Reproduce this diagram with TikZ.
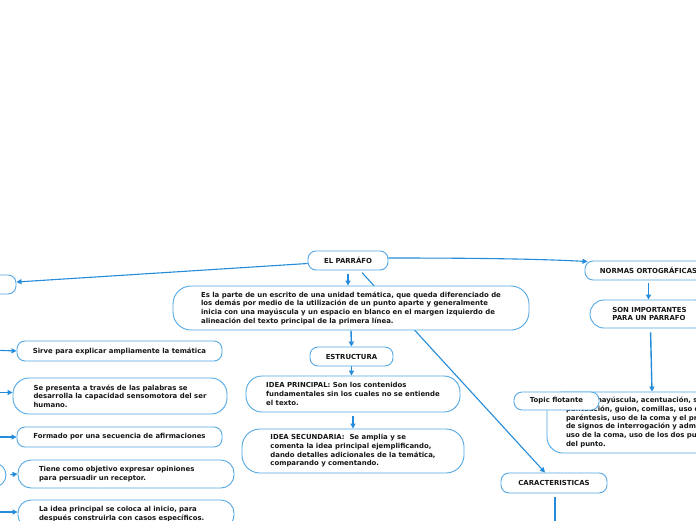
\documentclass[tikz,border=0pt]{standalone}
\usepackage{fontspec}
\setmainfont{DejaVu Sans}
\usetikzlibrary{arrows.meta}
\pgfdeclarelayer{bg}
\pgfsetlayers{bg,main}
\definecolor{boxblue}{RGB}{84,168,228}
\definecolor{lineblue}{RGB}{36,140,218}
\definecolor{txt}{RGB}{22,22,22}
\tikzset{
  box/.style={draw=boxblue, line width=0.9pt, fill=white, rounded corners=#1,
    font=\fontsize{6.92}{8.7}\selectfont\bfseries, text=txt, align=left,
    inner ysep=0pt, inner xsep=0pt},
  box/.default=8pt,
  conn/.style={draw=lineblue, line width=1.1pt, -{Triangle[length=5pt,width=5pt]}},
  plain/.style={draw=lineblue, line width=1.1pt}
}
\begin{document}
\begin{tikzpicture}[x=1pt,y=-1pt]
\useasboundingbox (0,0) rectangle (696,520);
\clip (0,0) rectangle (696,520);
% central column
\node[box, minimum width=80pt, minimum height=19pt, align=center] (par) at (348,260.5) {EL PARRÁFO};
\node[box=18pt, minimum width=356pt, minimum height=44pt] (def) at (351,308)
  {Es la parte de un escrito de una unidad temática, que queda diferenciado de\\
   los demás por medio de la utilización de un punto aparte y generalmente\\
   inicia con una mayúscula y un espacio en blanco en el margen izquierdo de\\
   alineación del texto principal de la primera línea.};
\node[box, minimum width=83pt, minimum height=19pt, align=center] (est) at (351.5,356.5) {ESTRUCTURA};
\node[box=16pt, minimum width=214pt, minimum height=36pt] (ip) at (353,394)
  {IDEA PRINCIPAL: Son los contenidos\\
   fundamentales sin los cuales no se entiende\\
   el texto.};
\node[box=18pt, minimum width=222pt, minimum height=44pt] (is) at (353,451)
  {IDEA SECUNDARIA:\ \ Se amplia y se\\
   comenta la idea principal ejemplificando,\\
   dando detalles adicionales de la temática,\\
   comparando y comentando.};
% right column
\node[box, minimum width=127pt, minimum height=19pt, align=center] (nor) at (648.5,270.5) {NORMAS ORTOGRÁFICAS};
\node[box=14pt, minimum width=119pt, minimum height=28pt] (son) at (649.5,314)
  {SON IMPORTANTES\\PARA UN PARRAFO};
\node[box=16pt, minimum width=210pt, minimum height=61pt, inner xsep=19pt, text width=172pt] (nt) at (652,422.5)
  {Uso de mayúscula, acentuación, signos de\\
   puntuación, guion, comillas, uso de\\
   paréntesis, uso de la coma y el prefijo,\\
   de signos de interrogación y admiración,\\
   uso de la coma, uso de los dos puntos y\\
   del punto.};
\node[box, minimum width=85pt, minimum height=18pt, align=center] (top) at (556.5,401) {Topic flotante};
\node[box, minimum width=106pt, minimum height=20pt, align=center] (car) at (554,483) {CARACTERISTICAS};
% left column
\node[box, minimum width=100pt, minimum height=19pt] (l0) at (-34,284.5) {};
\node[box, minimum width=205pt, minimum height=20pt] (l1) at (119.5,351) {Sirve para explicar ampliamente la temática};
\node[box=16pt, minimum width=214pt, minimum height=36pt] (l2) at (120,396)
  {Se presenta a través de las palabras se\\
   desarrolla la capacidad sensomotora del ser\\
   humano.};
\node[box, minimum width=205pt, minimum height=20pt] (l3) at (119.5,437) {Formado por una secuencia de afirmaciones};
\node[box=12pt, minimum width=92pt, minimum height=24pt] (l4) at (-40,475) {};
\node[box=13pt, minimum width=216pt, minimum height=28pt, inner xsep=21pt, text width=174pt] (l5) at (126,474)
  {Tiene como objetivo expresar opiniones\\para persuadir un receptor.};
\node[box=13pt, minimum width=216pt, minimum height=28pt, inner xsep=21pt, text width=174pt] (l6) at (126,514)
  {La idea principal se coloca al inicio, para\\después construirla con casos específicos.};
% free ends
\coordinate (s1) at (-10,350);
\coordinate (s2) at (-10,392.5);
\coordinate (s3) at (-10,437);
\coordinate (s6) at (-10,512);
\coordinate (down) at (555,530);
\begin{pgfonlayer}{bg}
\fill[white] (0,0) rectangle (696,520);
\draw[conn] ([yshift=-3pt]par.west) -- ([yshift=2.5pt]l0.east);
\draw[conn] ([yshift=2.5pt]par.east) .. controls (480,258) and (540,259) .. ([xshift=3pt,yshift=-1pt]nor.north west);
\draw[conn, line width=1.6pt, shorten <=4pt] (par.south) -- (par.south |- def.north);
\draw[conn, shorten <=3pt] ([xshift=12pt]par.south) -- ([xshift=-9pt]car.north);
\draw[conn, line width=1.4pt] (def.south) -- (est.north);
\draw[conn, line width=1.4pt] (est.south) -- (est.south |- ip.north);
\draw[conn, line width=1.4pt, shorten <=4pt] (ip.south) -- (is.north);
\draw[conn, line width=1.4pt, shorten <=3pt] (nor.south) -- (nor.south |- son.north);
\draw[conn, line width=1.4pt, shorten <=4pt] ([xshift=1pt]son.south) -- ([xshift=0pt]nt.north);
\draw[plain, line width=1.4pt, shorten <=4pt] ([xshift=1pt]car.south) -- (down);
\draw[conn] (s1) -- (l1.west);
\draw[conn] (s2) -- (l2.west |- s2);
\draw[conn] (s3) -- (l3.west);
\draw[conn, shorten <=4pt] (l4.east) -- (l5.west);
\draw[conn] (s6) -- (l6.west |- s6);
\end{pgfonlayer}
\end{tikzpicture}
\end{document}
